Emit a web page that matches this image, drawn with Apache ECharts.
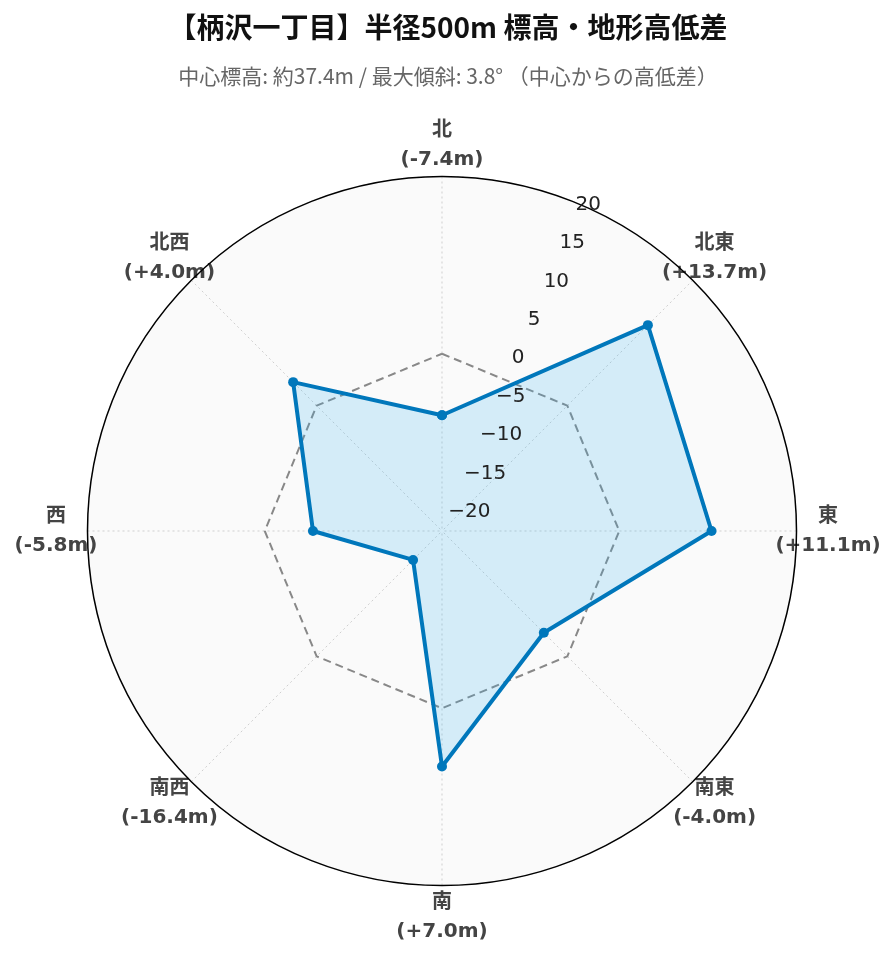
<!DOCTYPE html>
<html><head><meta charset="utf-8">
<script src="https://cdn.jsdelivr.net/npm/echarts@6/dist/echarts.min.js"></script>
<style>html,body{margin:0;padding:0;background:#fff}#chart{width:896px;height:962px}</style>
</head><body><div id="chart"></div>
<script>
// ---- data ----
const directions = ['北', '北東', '東', '南東', '南', '南西', '西', '北西'];
const directionAngles = [0, 45, 90, 135, 180, 225, 270, 315];
const elevationDiff = [-7.4, 13.7, 11.1, -4.0, 7.0, -16.4, -5.8, 4.0];
const referenceLine = [0, 0, 0, 0, 0, 0, 0, 0];
const radialTicks = [-20, -15, -10, -5, 0, 5, 10, 15, 20];
const radialMin = -21.32;
const radialMax = 21.32;
const cardinal = ['北', '東', '南', '西'];
const titleText = '【柄沢一丁目】半径500m 標高・地形高低差';
const subtitleText = '中心標高: 約37.4m / 最大傾斜: 3.8° （中心からの高低差）';

// ---- helpers ----
// closed ring: the first direction is repeated one full turn later
function closed(values) {
  const pts = values.map((v, i) => [v, directionAngles[i]]);
  pts.push([values[0], directionAngles[0] + 360]);
  return pts;
}
function signed(v) { return (v > 0 ? '+' : v < 0 ? '-' : '') + Math.abs(v).toFixed(1); }

const CJK = '"Noto Sans CJK JP", sans-serif';
const LAT = '"DejaVu Sans", "Noto Sans CJK JP", sans-serif';
const tokenStyle = { width: 58, align: 'center', lineHeight: 29, fontSize: 20, fontWeight: 'bold', fontFamily: LAT, color: '#444' };
const dirRich = { n: tokenStyle, v: tokenStyle };
function dirLabelByIndex(idx, wanted) {
  if (idx < 0) return '';
  const name = directions[idx];
  if (!wanted(name)) return '';
  return '{n|' + name + '}\n{v|(' + signed(elevationDiff[idx]) + 'm)}';
}

const chart = echarts.init(document.getElementById('chart'), null, { renderer: 'canvas' });

chart.setOption({
  backgroundColor: '#ffffff',
  animation: false,
  title: [
    { text: titleText, left: 'center', top: 8,
      textStyle: { fontFamily: CJK, fontSize: 28, fontWeight: 'bold', color: '#111' } },
    { text: subtitleText, left: 'center', top: 61,
      textStyle: { fontFamily: CJK, fontSize: 21, fontWeight: 'normal', color: '#666' } }
  ],
  polar: [
    { center: [442, 531], radius: 354.5 },
    { center: [444, 522], radius: 354.5 },
    { center: [442, 531], radius: 354.5 }
  ],
  angleAxis: [
    {
      polarIndex: 0, type: 'value', min: 0, max: 360, interval: 45,
      startAngle: 90, clockwise: true,
      axisLine: { show: false },
      axisTick: { show: false },
      splitLine: { show: true, lineStyle: { color: '#cfcfcf', width: 1, type: [2, 3] } },
      axisLabel: {
        show: true, margin: 2.5, rich: dirRich, showMaxLabel: false,
        formatter: v => dirLabelByIndex(directionAngles.indexOf(v), n => cardinal.includes(n))
      }
    },
    { polarIndex: 1, type: 'value', min: 0, max: 360, startAngle: 67.5, show: false },
    {
      polarIndex: 2, type: 'category', data: directions, startAngle: 112.5, clockwise: true,
      boundaryGap: true,
      axisLine: { show: true, lineStyle: { color: '#000', width: 1.5 } },
      axisTick: { show: false }, splitLine: { show: false }, splitArea: { show: false },
      axisLabel: {
        show: true, margin: -10, rich: dirRich,
        formatter: name => dirLabelByIndex(directions.indexOf(name), n => !cardinal.includes(n))
      },
      z: 5
    }
  ],
  radiusAxis: [
    {
      polarIndex: 0, type: 'value', min: radialMin, max: radialMax, splitNumber: 8,
      axisLine: { show: false }, axisTick: { show: false }, axisLabel: { show: false },
      splitLine: { show: true, lineStyle: { color: '#cfcfcf', width: 1, type: [2, 3] } },
      splitArea: { show: true, areaStyle: { color: ['#fafafa'] } }
    },
    {
      polarIndex: 1, type: 'value', min: radialMin, max: radialMax, splitNumber: 8,
      axisLine: { show: false }, axisTick: { show: false },
      splitLine: { show: false }, splitArea: { show: false },
      axisLabel: {
        show: true, margin: 0, align: 'left', verticalAlign: 'middle',
        showMinLabel: false, showMaxLabel: false, hideOverlap: false,
        fontFamily: LAT, fontSize: 20, color: '#222',
        formatter: v => radialTicks.includes(v) ? (v < 0 ? '\u2212' + Math.abs(v) : String(v)) : ''
      },
      z: 20
    },
    {
      polarIndex: 2, type: 'value', min: radialMin, max: radialMax,
      axisLine: { show: false }, axisTick: { show: false }, axisLabel: { show: false },
      splitLine: { show: false }, splitArea: { show: false }
    }
  ],
  series: [
    {
      name: '基準', type: 'line', coordinateSystem: 'polar', polarIndex: 0,
      data: closed(referenceLine), symbol: 'none', silent: true, clip: false,
      lineStyle: { color: '#888', width: 2, type: [8, 5] }, z: 3
    },
    {
      name: '高低差', type: 'line', coordinateSystem: 'polar', polarIndex: 0,
      data: closed(elevationDiff), symbol: 'circle', symbolSize: 10, clip: false,
      itemStyle: { color: '#0077BB' },
      lineStyle: { color: '#0077BB', width: 4 },
      areaStyle: { color: 'rgba(60,180,240,0.2)', opacity: 1, origin: 'start' },
      z: 4
    }
  ]
});
</script>
</body></html>
